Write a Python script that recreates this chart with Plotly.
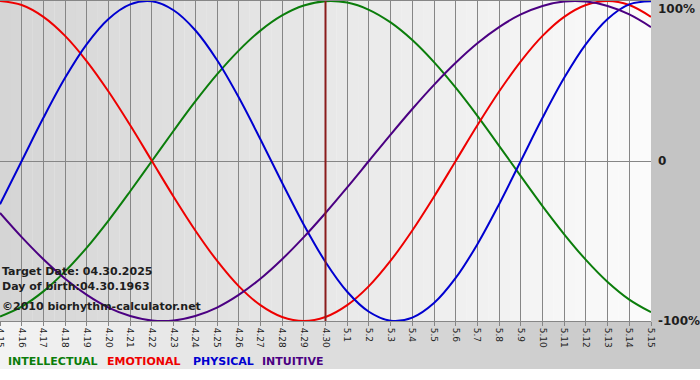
import plotly.graph_objects as go

# ---------------- data ----------------
days = ["4.15", "4.16", "4.17", "4.18", "4.19", "4.20", "4.21", "4.22", "4.23",
        "4.24", "4.25", "4.26", "4.27", "4.28", "4.29", "4.30", "5.1", "5.2",
        "5.3", "5.4", "5.5", "5.6", "5.7", "5.8", "5.9", "5.10", "5.11", "5.12",
        "5.13", "5.14", "5.15"]

intellectual = [-0.972, -0.910, -0.815, -0.690, -0.541, -0.372, -0.189, 0.000, 0.189, 0.372,
                0.541, 0.690, 0.815, 0.910, 0.972, 0.999, 0.990, 0.945, 0.866, 0.756,
                0.618, 0.458, 0.282, 0.095, -0.095, -0.282, -0.458, -0.618, -0.756, -0.866,
                -0.945]
emotional = [1.000, 0.975, 0.901, 0.782, 0.623, 0.434, 0.223, 0.000, -0.223, -0.434,
             -0.623, -0.782, -0.901, -0.975, -1.000, -0.975, -0.901, -0.782, -0.623, -0.434,
             -0.223, 0.000, 0.223, 0.434, 0.623, 0.782, 0.901, 0.975, 1.000, 0.975,
             0.901]
physical = [-0.270, 0.000, 0.270, 0.520, 0.731, 0.888, 0.979, 0.998, 0.942, 0.817,
            0.631, 0.398, 0.136, -0.136, -0.398, -0.631, -0.817, -0.942, -0.998, -0.979,
            -0.888, -0.731, -0.520, -0.270, 0.000, 0.270, 0.520, 0.731, 0.888, 0.979,
            0.998]
intuitive = [-0.325, -0.476, -0.614, -0.736, -0.837, -0.916, -0.969, -0.997, -0.997, -0.969,
             -0.916, -0.837, -0.736, -0.614, -0.476, -0.325, -0.165, 0.000, 0.165, 0.325,
             0.476, 0.614, 0.736, 0.837, 0.916, 0.969, 0.997, 0.997, 0.969, 0.916,
             0.837]

series_names = ["INTELLECTUAL", "EMOTIONAL", "PHYSICAL", "INTUITIVE"]
series_values = [intellectual, emotional, physical, intuitive]
target_day = "4.30"
info_lines = ["Target Date: 04.30.2025", "Day of birth:04.30.1963",
              "\u00a92010 biorhythm-calculator.net"]
y_tick_values = [1, 0, -1]
y_tick_labels = ["100%", "0", "-100%"]

# ---------------- style ----------------
W, H = 700, 380
ML, MR, MT, MB = 0, 49, 1, 59
PW, PH = W - ML - MR, H - MT - MB
colors = ["#0b7d0b", "#ee0000", "#0000d0", "#4b0082"]
grid_col = "#868686"
txt_col = "#1e1e1e"
FONT = "DejaVu Sans"

fig = go.Figure()
for name, vals, col in zip(series_names, series_values, colors):
    fig.add_trace(go.Scatter(x=days, y=vals, mode="lines", name=name,
                             line=dict(color=col, width=2, shape="spline", smoothing=1.0),
                             showlegend=False, hoverinfo="skip"))

shapes = []


def px_x(p):
    return (p - ML) / PW


def px_y(p):
    return (H - MB - p) / PH


def grey(v):
    v = int(round(v))
    return "rgb(%d,%d,%d)" % (v, v, v)


# plot-area horizontal gradient
N = 60
for i in range(N):
    t = (i + 0.5) / N
    shapes.append(dict(type="rect", xref="paper", yref="paper",
                       x0=i / N, x1=(i + 1.02) / N, y0=0, y1=px_y(0),
                       fillcolor=grey(213 + 38 * t), line=dict(width=0), layer="below"))
# bottom band gradient (under the plot, above white strip)
NB = 70
for i in range(NB):
    t = (i + 0.5) / NB
    x0 = i * W / NB
    x1 = (i + 1.05) * W / NB
    shapes.append(dict(type="rect", xref="paper", yref="paper",
                       x0=px_x(x0), x1=px_x(x1), y0=px_y(369), y1=0,
                       fillcolor=grey(243 - 47 * t), line=dict(width=0), layer="below"))
# right column
shapes.append(dict(type="rect", xref="paper", yref="paper",
                   x0=1, x1=px_x(W + 2), y0=-0.001, y1=px_y(0),
                   fillcolor=grey(196), line=dict(width=0), layer="below"))

# target date line
ti = days.index(target_day)
shapes.append(dict(type="line", xref="x", yref="paper", x0=ti, x1=ti, y0=0, y1=1,
                   line=dict(color="#8a1c1c", width=2), layer="above"))

annotations = []
for lab, v in zip(y_tick_labels, y_tick_values):
    annotations.append(dict(xref="paper", yref="y", x=1, y=v, text=lab, showarrow=False,
                            xanchor="left", yanchor="top" if v == 1 else "middle",
                            xshift=5, yshift=1 if v == 1 else 0,
                            font=dict(family=FONT, size=12, color=txt_col, weight="bold")))

info_y = [271, 286, 306]
for txt, yy in zip(info_lines, info_y):
    annotations.append(dict(xref="paper", yref="paper", x=0, y=px_y(yy), text=txt,
                            showarrow=False, xanchor="left", yanchor="middle", xshift=0,
                            font=dict(family=FONT, size=11, color=txt_col, weight="bold")))

legend_x = [6, 105, 191, 260]
for name, col, lx in zip(series_names, colors, legend_x):
    annotations.append(dict(xref="paper", yref="paper", x=px_x(lx), y=px_y(361), text=name,
                            showarrow=False, xanchor="left", yanchor="middle",
                            font=dict(family=FONT, size=11, color=col, weight="bold")))

fig.update_layout(
    width=W, height=H, autosize=False,
    margin=dict(l=ML, r=MR, t=MT, b=MB, pad=0),
    paper_bgcolor="white", plot_bgcolor="rgba(0,0,0,0)",
    shapes=shapes, annotations=annotations,
    font=dict(family=FONT, color=txt_col),
    xaxis=dict(type="category", categoryorder="array", categoryarray=days,
               range=[0, len(days) - 1], tickmode="array", tickvals=days, ticktext=days,
               tickangle=90, ticks="outside", ticklen=4, tickcolor=grid_col, tickwidth=1,
               tickfont=dict(family=FONT, size=9, color=txt_col),
               showgrid=True, gridcolor=grid_col, gridwidth=1,
               showline=True, linecolor=grid_col, linewidth=1, mirror=True,
               zeroline=False, fixedrange=True, automargin=False),
    yaxis=dict(range=[-1, 1], showticklabels=False, showgrid=False, ticks="",
               zeroline=True, zerolinecolor=grid_col, zerolinewidth=1,
               showline=False, fixedrange=True, automargin=False),
    hovermode=False,
)

fig.write_html("out.html", config={"displayModeBar": False},
               post_script="document.body.style.margin='0px';"
                           "document.body.style.overflow='hidden';")
